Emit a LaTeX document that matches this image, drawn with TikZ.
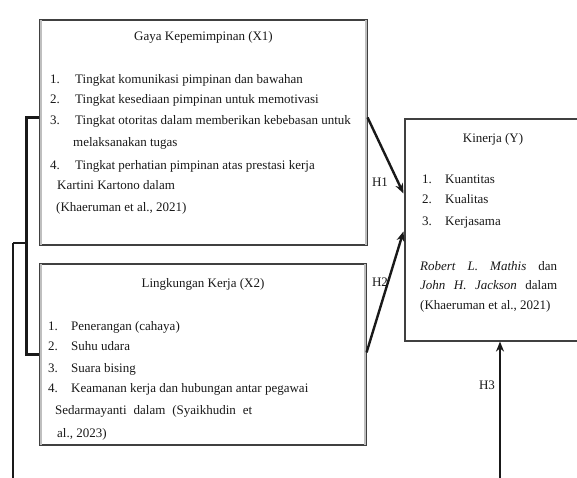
\documentclass[tikz,border=0pt]{standalone}
\usepackage{fontspec}
\setmainfont{Liberation Serif}
\usetikzlibrary{calc,arrows.meta}
\begin{document}
\begin{tikzpicture}[x=1pt,y=-1pt,
  box/.style={draw=black!75,line width=1.1pt,inner sep=0pt},
  txt/.style={anchor=base west,inner sep=0pt,text=black!90,font=\fontsize{13}{15}\selectfont},
  ctxt/.style={anchor=base,inner sep=0pt,text=black!90,font=\fontsize{13}{15}\selectfont},
  hyp/.style={-{Stealth[length=10pt,width=8pt]},line width=2.4pt,black!90},
  brk/.style={line width=2.6pt,black!90},
  lnk/.style={line width=1.8pt,black!90}]
\useasboundingbox (0,0) rectangle (577,477);
\clip (0,0) rectangle (577,477);
\fill[white] (0,0) rectangle (577,477);
% boxes
\node[box,minimum width=327pt,minimum height=225pt] (x1) at (203.5,132.5) {};
\node[box,minimum width=326pt,minimum height=181pt] (x2) at (203,354.5) {};
\node[box,minimum width=176pt,minimum height=222pt] (y) at (493,230) {};
% soft inner shading of the borders
\draw[black!25,line width=2pt] ($(x1.north west)+(2,1)$) -- ($(x1.south west)+(2,-1)$);
\draw[black!25,line width=2pt] ($(x1.north east)+(-2,1)$) -- ($(x1.south east)+(-2,-1)$);
\draw[black!25,line width=2pt] ($(x2.north west)+(2,1)$) -- ($(x2.south west)+(2,-1)$);
\draw[black!25,line width=2pt] ($(x2.north east)+(-2,1)$) -- ($(x2.south east)+(-2,-1)$);
% X1 text
\node[ctxt] (t1) at (203.5,40) {Gaya Kepemimpinan (X1)};
\node[txt] (a1) at (50,83) {1.};  \node[txt] (a1t) at (75,83) {Tingkat komunikasi pimpinan dan bawahan};
\node[txt] (a2) at (50,103) {2.}; \node[txt] (a2t) at (75,103) {Tingkat kesediaan pimpinan untuk memotivasi};
\node[txt] (a3) at (50,124) {3.}; \node[txt] (a3t) at (75,124) {Tingkat otoritas dalam memberikan kebebasan untuk};
\node[txt] (a3u) at (73,146) {melaksanakan tugas};
\node[txt] (a4) at (50,169) {4.}; \node[txt] (a4t) at (75,169) {Tingkat perhatian pimpinan atas prestasi kerja};
\node[txt] (a5) at (57,189) {Kartini Kartono dalam};
\node[txt] (a6) at (56,211) {(Khaeruman et al., 2021)};
% X2 text
\node[ctxt] (t2) at (203,287) {Lingkungan Kerja (X2)};
\node[txt] (b1) at (48,330) {1.}; \node[txt] (b1t) at (71,330) {Penerangan (cahaya)};
\node[txt] (b2) at (48,350) {2.}; \node[txt] (b2t) at (71,350) {Suhu udara};
\node[txt] (b3) at (48,372) {3.}; \node[txt] (b3t) at (71,372) {Suara bising};
\node[txt] (b4) at (48,392) {4.}; \node[txt] (b4t) at (71,392) {Keamanan kerja dan hubungan antar pegawai};
\node[txt] (b5) at (55,414) {\hbox to 197pt{Sedarmayanti\hfill dalam\hfill (Syaikhudin\hfill et}};
\node[txt] (b6) at (57,437) {al., 2023)};
% Y text
\node[ctxt] (t3) at (493,142) {Kinerja (Y)};
\node[txt] (c1) at (422,183) {1.}; \node[txt] (c1t) at (445,183) {Kuantitas};
\node[txt] (c2) at (422,203) {2.}; \node[txt] (c2t) at (445,203) {Kualitas};
\node[txt] (c3) at (422,225) {3.}; \node[txt] (c3t) at (445,225) {Kerjasama};
\node[txt] (c4) at (420,270) {\hbox to 137pt{\itshape Robert\hfill L.\hfill Mathis\hfill \upshape dan}};
\node[txt] (c5) at (420,289) {\hbox to 137pt{\itshape John\hfill H.\hfill Jackson\hfill \upshape dalam}};
\node[txt] (c6) at (420,309) {(Khaeruman et al., 2021)};
% connector points
\coordinate (h1s) at ($(x1.north east)+(0,98)$);
\coordinate (h1e) at ($(y.north west)+(-1,75)$);
\coordinate (h2s) at ($(x2.north east)+(0,89)$);
\coordinate (h2e) at ($(y.north west)+(-1,113)$);
\coordinate (bt) at ($(x1.north west)+(0,98)$);
\coordinate (bb) at ($(x2.north west)+(0,91)$);
\coordinate (bm) at (27,243);
\coordinate (h3e) at ($(y.south)+(7,0)$);
% hypotheses arrows
\draw[hyp] (h1s) -- (h1e);
\draw[hyp] (h2s) -- (h2e);
\node[ctxt] (l1) at (380,186) {H1};
\node[ctxt] (l2) at (380,286) {H2};
% bracket and H3 path
\draw[brk] (bt) -- ++(-13,0) |- (bb);
\draw[brk] (bm) -- ++(-14,0);
\draw[lnk] (13,243) -- (13,495) -| ($(h3e)+(0,150)$);
\draw[hyp] ($(h3e)+(0,150)$) -- (h3e);
\node[ctxt] (l3) at (487,389) {H3};
\end{tikzpicture}
\end{document}
